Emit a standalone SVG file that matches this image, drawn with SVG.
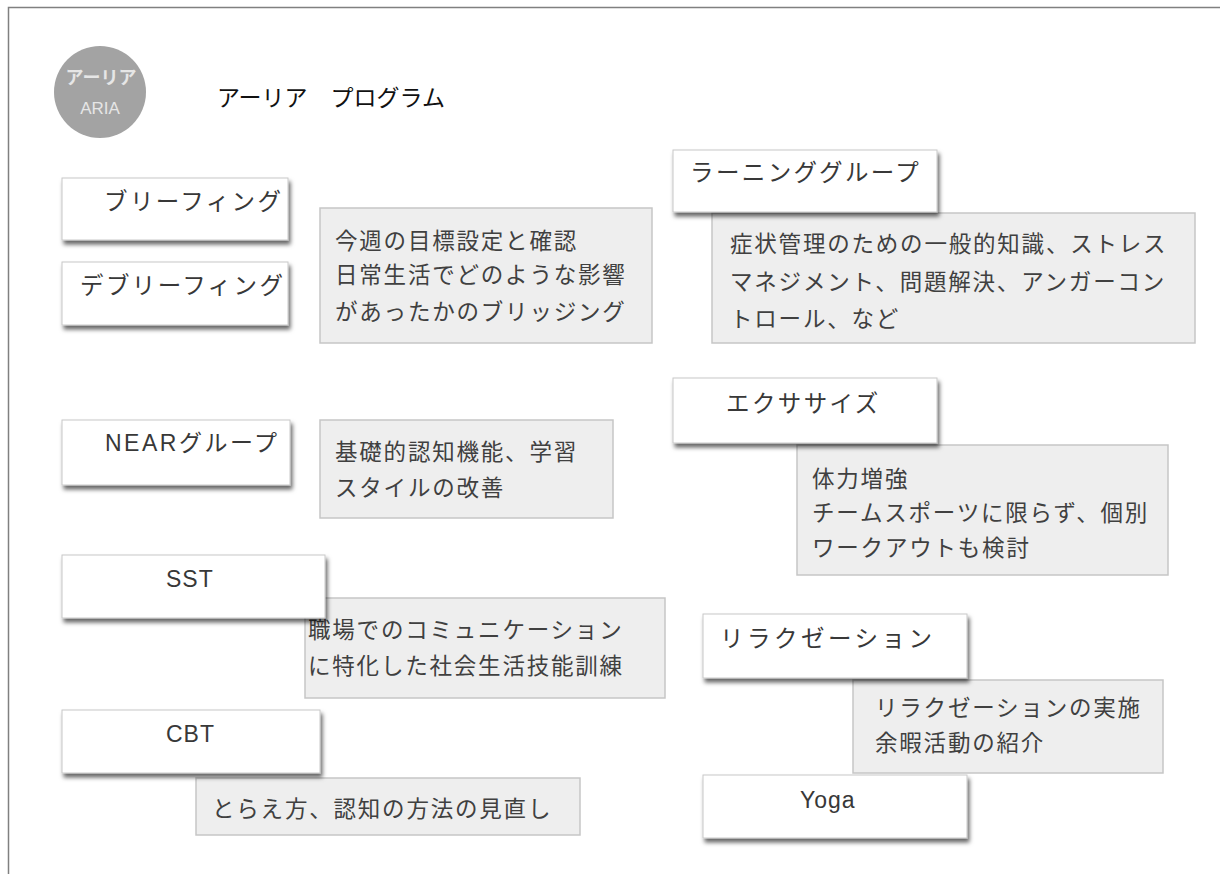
<svg xmlns="http://www.w3.org/2000/svg" width="1220" height="874" viewBox="0 0 1220 874">
<defs>
<filter id="sh" x="-10%" y="-20%" width="125%" height="150%">
<feDropShadow dx="2" dy="4" stdDeviation="2" flood-color="#000" flood-opacity="0.6"/>
</filter>
<style>
.t{fill:#fff;stroke:#c8c8c8;stroke-width:1;filter:url(#sh)}
.d{fill:#eeeeee;stroke:#c6c6c6;stroke-width:1.5}
text{font-family:"Liberation Sans","Noto Sans CJK JP",sans-serif}
.lb{font-size:23.5px;fill:#383838;letter-spacing:2.4px}
.la{font-size:23px;fill:#383838;letter-spacing:1px}
.ds{font-size:22.5px;fill:#404040;letter-spacing:1.8px}
.hd{font-size:23px;fill:#111}
.cl{font-size:18px;fill:#e6e6e6;text-anchor:middle;font-weight:bold}
.ca{font-size:17px;fill:#e6e6e6;text-anchor:middle}
</style>
</defs>
<rect width="1220" height="874" fill="#fff"/>
<path d="M8.5,874 V7.5 H1220" fill="none" stroke="#808080" stroke-width="1.5"/>
<g id="logo">
<circle cx="100" cy="92" r="46" fill="#a3a3a3"/>
<text class="cl" x="101" y="84">アーリア</text>
<text class="ca" x="100" y="114">ARIA</text>
</g>
<text class="hd" x="217" y="106">アーリア　プログラム</text>
<g id="connectors"/>
<g id="briefing-desc"><rect class="d" x="320" y="208" width="332" height="135"/>
<text class="ds" x="335" y="249">今週の目標設定と確認</text>
<text class="ds" x="335" y="283">日常生活でどのような影響</text>
<text class="ds" x="335" y="320">があったかのブリッジング</text></g>
<g id="near-desc"><rect class="d" x="320" y="420" width="293" height="98"/>
<text class="ds" x="335" y="460">基礎的認知機能、学習</text>
<text class="ds" x="335" y="496">スタイルの改善</text></g>
<g id="sst-desc"><rect class="d" x="305" y="598" width="360" height="100"/>
<text class="ds" x="308" y="638">職場でのコミュニケーション</text>
<text class="ds" x="308" y="674">に特化した社会生活技能訓練</text></g>
<g id="cbt-desc"><rect class="d" x="196" y="778" width="384" height="57"/>
<text class="ds" x="212" y="817">とらえ方、認知の方法の見直し</text></g>
<g id="learning-desc"><rect class="d" x="712" y="213" width="483" height="130"/>
<text class="ds" x="730" y="252">症状管理のための一般的知識、ストレス</text>
<text class="ds" x="730" y="290">マネジメント、問題解決、アンガーコン</text>
<text class="ds" x="730" y="327">トロール、など</text></g>
<g id="exercise-desc"><rect class="d" x="797" y="445" width="371" height="130"/>
<text class="ds" x="812" y="487">体力増強</text>
<text class="ds" x="812" y="521">チームスポーツに限らず、個別</text>
<text class="ds" x="812" y="556">ワークアウトも検討</text></g>
<g id="relax-desc"><rect class="d" x="853" y="680" width="310" height="93"/>
<text class="ds" x="875" y="716">リラクゼーションの実施</text>
<text class="ds" x="875" y="751">余暇活動の紹介</text></g>
<g id="briefing"><rect class="t" x="62" y="178" width="226" height="62"/>
<text class="lb" x="104" y="210">ブリーフィング</text></g>
<g id="debriefing"><rect class="t" x="62" y="262" width="226" height="63"/>
<text class="lb" x="80" y="294">デブリーフィング</text></g>
<g id="near"><rect class="t" x="62" y="420" width="228" height="65"/>
<text class="la" x="105" y="451" style="letter-spacing:2.5px">NEARグループ</text></g>
<g id="sst"><rect class="t" x="62" y="555" width="263" height="63"/>
<text class="la" x="166" y="587">SST</text></g>
<g id="cbt"><rect class="t" x="62" y="710" width="258" height="63"/>
<text class="la" x="166" y="742">CBT</text></g>
<g id="learning"><rect class="t" x="673" y="150" width="264" height="62"/>
<text class="lb" x="690" y="181">ラーニンググループ</text></g>
<g id="exercise"><rect class="t" x="673" y="378" width="264" height="65"/>
<text class="lb" x="726" y="412">エクササイズ</text></g>
<g id="relaxation"><rect class="t" x="703" y="614" width="264" height="64"/>
<text class="lb" x="720" y="647" style="letter-spacing:3.5px">リラクゼーション</text></g>
<g id="yoga"><rect class="t" x="703" y="775" width="264" height="63"/>
<text class="la" x="800" y="808">Yoga</text></g>
</svg>
